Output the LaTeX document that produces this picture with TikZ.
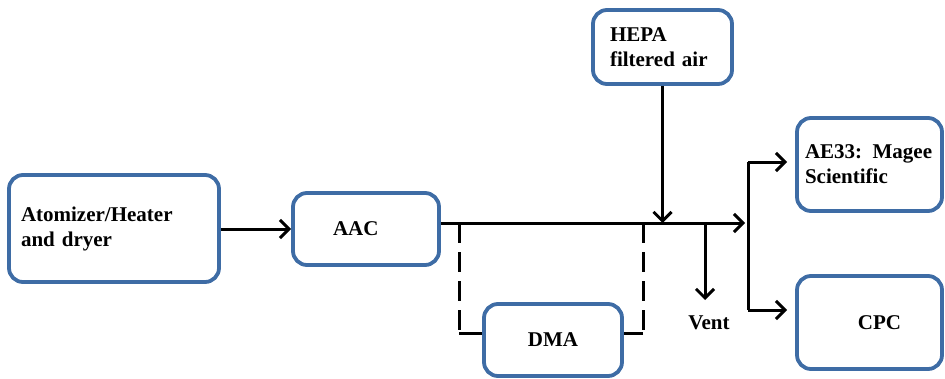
\documentclass[tikz,border=0pt]{standalone}
\usepackage{fontspec}
\setmainfont{Liberation Serif}
\usetikzlibrary{arrows.meta,calc}
\definecolor{boxblue}{RGB}{62,108,165}
\tikzset{
  blk/.style={draw=boxblue, line width=3.8pt, rounded corners=14pt, font=\fontsize{21}{25}\selectfont\bfseries, inner sep=0pt},
  lbl/.style={font=\fontsize{21}{25}\selectfont\bfseries, inner sep=0pt},
  arr/.style={line width=3pt, -{Straight Barb[length=9pt,width=18pt]}},
  ln/.style={line width=3pt},
  dsh/.style={line width=3pt, dash pattern=on 20pt off 9pt}
}
\begin{document}
\begin{tikzpicture}[x=1pt,y=-1pt]
\useasboundingbox (0,0) rectangle (945,378);
\node[blk, minimum width=210pt, minimum height=107pt, text width=186pt, inner xsep=12pt, align=left] (atom) at (114,228.5) {Atomizer/Heater\\and dryer};
\node[blk, minimum width=146pt, minimum height=72pt, text width=66pt, inner xsep=40pt, align=left] (aac) at (366,229) {AAC};
\node[blk, minimum width=138pt, minimum height=72pt] (dma) at (553,340) {DMA};
\node[blk, minimum width=139pt, minimum height=74pt, text width=105pt, inner xsep=17pt, align=left] (hepa) at (662.5,47) {HEPA\\filtered air};
\node[blk, minimum width=145pt, minimum height=93pt, text width=129pt, inner xsep=8pt, align=left] (ae) at (869.5,164.5) {\mbox{AE33: Magee}\\Scientific};
\node[blk, minimum width=145pt, minimum height=93pt] (cpc) at (869.5,322.5) {\hspace*{20pt}CPC};
\node[lbl] (vent) at (709,323) {Vent};

\coordinate (mj) at (745,223);
\coordinate (d1) at (459,223);
\coordinate (d2) at (643,223);
\coordinate (dl) at (459,333);
\coordinate (dr) at (643,333);
\coordinate (vtop) at (705,223);
\coordinate (vend) at (705,300);
\coordinate (b1) at (748,162);
\coordinate (b2) at (748,310);

\draw[arr] (atom.east |- aac.west) -- (aac.west);
\draw[arr] (aac.east |- mj) -- (mj);
\draw[arr] (hepa.south) -- (hepa.south |- mj);
\draw[arr] (vtop) -- (vend);
\draw[ln] (b1) -- (b2);
\draw[arr, shorten >=8pt] (b1) -- (b1 -| ae.west);
\draw[arr, shorten >=8pt] (b2) -- (b2 -| cpc.west);
\draw[dsh] (d1) -- (dl);
\draw[dsh] (d2) -- (dr);
\draw[ln] (dl) -- (dl -| dma.west);
\draw[ln] (dr) -- (dr -| dma.east);
\end{tikzpicture}
\end{document}
